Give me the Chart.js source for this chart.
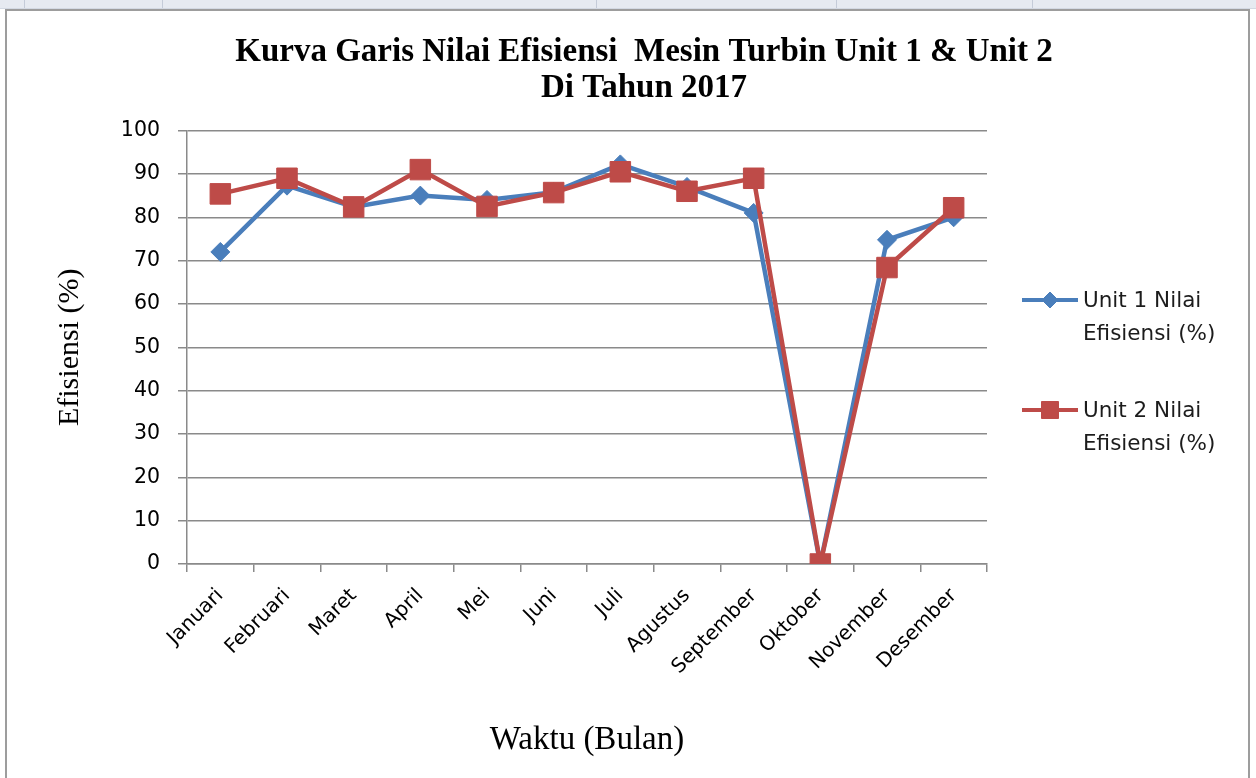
<!DOCTYPE html>
<html>
<head>
<meta charset="utf-8">
<title>Kurva Garis Nilai Efisiensi</title>
<script src="https://cdn.jsdelivr.net/npm/chart.js@4.4.0/dist/chart.umd.min.js"></script>
<style>
  html, body { margin: 0; padding: 0; background: #fff; }
  #wrap { position: relative; width: 1256px; height: 778px; overflow: hidden; }
  #topband { position: absolute; left: 0; top: 0; width: 1256px; height: 8px; background: #e6eaf1; border-bottom: 1px solid #d3d9e3; }
  .sep { position: absolute; top: 0; width: 1px; height: 8px; background: #c4cbd8; }
  #frame { position: absolute; left: 5px; top: 9px; width: 1241px; height: 790px; border: 2px solid #9d9d9d; border-bottom: none; }
  #myChart { position: absolute; left: 0; top: 0; }
</style>
</head>
<body>
<div id="wrap">
  <div id="topband">
    <div class="sep" style="left:24px"></div>
    <div class="sep" style="left:162px"></div>
    <div class="sep" style="left:596px"></div>
    <div class="sep" style="left:836px"></div>
    <div class="sep" style="left:1032px"></div>
  </div>
  <div id="frame"></div>
  <canvas id="myChart" width="1256" height="778"></canvas>
</div>
<script>
const months = ['Januari', 'Februari', 'Maret', 'April', 'Mei', 'Juni', 'Juli', 'Agustus', 'September', 'Oktober', 'November', 'Desember'];
const unit1 = [72, 87.3, 82.4, 85, 84, 85.8, 92.2, 87, 81, 0, 74.8, 80];
const unit2 = [85.4, 89, 82.4, 91, 82.5, 85.7, 90.5, 86, 89, 0, 68.4, 82.2];
const legendLines = [['Unit 1 Nilai', 'Efisiensi (%)'], ['Unit 2 Nilai', 'Efisiensi (%)']];

const gridGray = '#8a8a8a';

// legend on the right, two-line labels like the Excel one
const sideLegend = {
  id: 'sideLegend',
  afterDraw(chart) {
    const ctx = chart.ctx;
    const rows = [300, 410];
    chart.data.datasets.forEach((ds, i) => {
      const y = rows[i];
      ctx.save();
      ctx.strokeStyle = ds.borderColor;
      ctx.lineWidth = 4;
      ctx.beginPath();
      ctx.moveTo(1022, y);
      ctx.lineTo(1078, y);
      ctx.stroke();
      ctx.fillStyle = ds.backgroundColor;
      ctx.lineWidth = 1;
      Chart.helpers.drawPoint(ctx, { pointStyle: ds.pointStyle, rotation: 0, radius: ds.pointStyle === 'rect' ? 12 : 8, borderWidth: 1 }, 1050, y);
      ctx.fillStyle = '#1c1c1c';
      ctx.font = '21.5px "DejaVu Sans"';
      ctx.textBaseline = 'middle';
      ctx.textAlign = 'left';
      legendLines[i].forEach((t, k) => ctx.fillText(t, 1083, y + 1 + k * 33));
      ctx.restore();
    });
  }
};

document.addEventListener('DOMContentLoaded', () => {
  const canvas = document.getElementById('myChart');
  const ctx = canvas.getContext('2d');

  new Chart(ctx, {
    type: 'line',
    data: {
      labels: months,
      datasets: [
        {
          label: 'Unit 1 Nilai Efisiensi (%)',
          data: unit1,
          borderColor: '#4A7EBB',
          backgroundColor: '#4A7EBB',
          borderWidth: 4.5,
          pointStyle: 'rectRot',
          pointRadius: 9.5,
          pointBorderWidth: 1,
          tension: 0,
          order: 1
        },
        {
          label: 'Unit 2 Nilai Efisiensi (%)',
          data: unit2,
          borderColor: '#BE4B48',
          backgroundColor: '#BE4B48',
          borderWidth: 4.5,
          pointStyle: 'rect',
          pointRadius: 14.5,
          pointBorderWidth: 1,
          tension: 0,
          order: 0
        }
      ]
    },
    options: {
      responsive: false,
      animation: false,
      layout: { padding: { left: 32, right: 0, top: 0, bottom: 0 } },
      plugins: {
        legend: { display: false },
        tooltip: { enabled: false },
        title: {
          display: true,
          text: ['Kurva Garis Nilai Efisiensi  Mesin Turbin Unit 1 & Unit 2', 'Di Tahun 2017'],
          color: '#000',
          font: { family: 'Liberation Serif', size: 33, weight: 'bold', lineHeight: 1.1 },
          padding: { top: 34, bottom: 24 }
        }
      },
      scales: {
        x: {
          offset: true,
          grid: { drawOnChartArea: false, offset: true, tickLength: 8, color: gridGray, lineWidth: 1.5 },
          border: { color: gridGray, width: 1.5 },
          ticks: {
            autoSkip: false,
            minRotation: 45,
            maxRotation: 45,
            padding: 12,
            color: '#000',
            font: { family: 'DejaVu Sans', size: 20 }
          },
          title: {
            display: true,
            text: 'Waktu (Bulan)',
            color: '#000',
            font: { family: 'Liberation Serif', size: 33 },
            padding: { top: 0, bottom: 18 }
          },
          afterFit(scale) { scale.height = 214; }
        },
        y: {
          min: 0,
          max: 100,
          ticks: {
            stepSize: 10,
            padding: 18,
            color: '#000',
            font: { family: 'DejaVu Sans', size: 20.5 }
          },
          grid: { color: gridGray, lineWidth: 1.5, tickLength: 9 },
          border: { color: gridGray, width: 1.5 },
          title: {
            display: true,
            text: 'Efisiensi (%)',
            color: '#000',
            font: { family: 'Liberation Serif', size: 30 },
            padding: { top: 20, bottom: 0 }
          },
          afterFit(scale) { scale.width = 155; }
        },
        side: {
          position: 'right',
          display: true,
          grid: { display: false },
          border: { display: false },
          ticks: { display: false },
          afterFit(scale) { scale.width = 269; }
        }
      }
    },
    plugins: [sideLegend]
  });
});
</script>
</body>
</html>
